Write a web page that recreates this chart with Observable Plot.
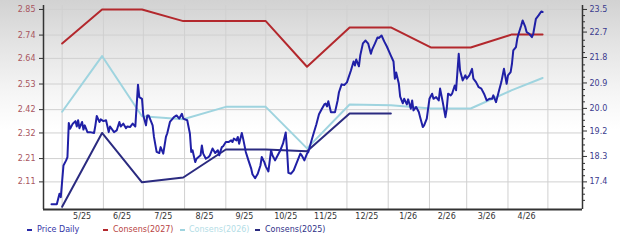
<!DOCTYPE html>
<html>
<head>
<meta charset="utf-8">
<script src="https://cdn.jsdelivr.net/npm/d3@7"></script>
<script src="https://cdn.jsdelivr.net/npm/@observablehq/plot@0.6"></script>
<style>
  html, body { margin: 0; padding: 0; }
  body {
    width: 620px; height: 245px; overflow: hidden;
    background: linear-gradient(to bottom, #d2d2d2 0px, #e4e4e4 45px, #f6f6f6 95px, #ffffff 130px);
    font-family: "DejaVu Sans", sans-serif;
  }
  #legend { position: relative; height: 23px; font-size: 8px; }
  #legend span.t { position: absolute; top: 3px; line-height: 10px; white-space: nowrap; }
  #legend span.m { position: absolute; top: 7px; width: 5px; height: 2px; }
</style>
</head>
<body>
<div id="chart"></div>
<div id="legend"></div>
<script>
// ---- data ----
const priceDates = [
"2025-04-23","2025-04-27","2025-04-29","2025-04-30","2025-05-02","2025-05-04","2025-05-05","2025-05-06","2025-05-07","2025-05-09",
"2025-05-11","2025-05-12","2025-05-13","2025-05-14","2025-05-16","2025-05-17","2025-05-18","2025-05-20","2025-05-22","2025-05-25",
"2025-05-26","2025-05-27","2025-05-29","2025-05-30","2025-06-01","2025-06-03","2025-06-05","2025-06-06","2025-06-09","2025-06-11",
"2025-06-13","2025-06-14","2025-06-16","2025-06-18","2025-06-19","2025-06-21","2025-06-23","2025-06-25","2025-06-27","2025-06-28",
"2025-06-30","2025-07-01","2025-07-03","2025-07-04","2025-07-05","2025-07-08","2025-07-09","2025-07-11","2025-07-13","2025-07-14",
"2025-07-16","2025-07-18","2025-07-19","2025-07-21","2025-07-24","2025-07-26","2025-07-28","2025-07-30","2025-07-31","2025-08-03",
"2025-08-05","2025-08-06","2025-08-07","2025-08-09","2025-08-10","2025-08-13","2025-08-14","2025-08-15","2025-08-17","2025-08-19",
"2025-08-20","2025-08-22","2025-08-24","2025-08-26","2025-08-27","2025-08-29","2025-08-30","2025-09-01","2025-09-03","2025-09-05",
"2025-09-06","2025-09-07","2025-09-09","2025-09-10","2025-09-11","2025-09-13","2025-09-14","2025-09-16","2025-09-18","2025-09-20",
"2025-09-21","2025-09-23","2025-09-25","2025-09-27","2025-09-28","2025-09-30","2025-10-01","2025-10-03","2025-10-05","2025-10-06",
"2025-10-08","2025-10-10","2025-10-12","2025-10-14","2025-10-16","2025-10-17","2025-10-18","2025-10-20","2025-10-22","2025-10-24",
"2025-10-27","2025-10-28","2025-10-30","2025-11-01","2025-11-02","2025-11-04","2025-11-06","2025-11-08","2025-11-10","2025-11-12",
"2025-11-14","2025-11-15","2025-11-16","2025-11-17","2025-11-19","2025-11-22","2025-11-24","2025-11-25","2025-11-27","2025-11-29",
"2025-12-01","2025-12-02","2025-12-04","2025-12-06","2025-12-07","2025-12-08","2025-12-10","2025-12-11","2025-12-13","2025-12-15",
"2025-12-17","2025-12-19","2025-12-20","2025-12-22","2025-12-24","2025-12-25","2025-12-27","2025-12-29","2025-12-31","2026-01-03",
"2026-01-05","2026-01-06","2026-01-07","2026-01-09","2026-01-10","2026-01-12","2026-01-13","2026-01-15","2026-01-16","2026-01-18",
"2026-01-19","2026-01-20","2026-01-22","2026-01-24","2026-01-25","2026-01-27","2026-01-28","2026-01-30","2026-02-01","2026-02-03",
"2026-02-04","2026-02-06","2026-02-08","2026-02-09","2026-02-11","2026-02-13","2026-02-14","2026-02-15","2026-02-17","2026-02-18",
"2026-02-20","2026-02-21","2026-02-23","2026-02-24","2026-02-26","2026-02-28","2026-03-01","2026-03-03","2026-03-05","2026-03-06",
"2026-03-08","2026-03-10","2026-03-12","2026-03-14","2026-03-16","2026-03-18","2026-03-20","2026-03-21","2026-03-23","2026-03-25",
"2026-03-27","2026-03-29","2026-03-31","2026-04-01","2026-04-03","2026-04-04","2026-04-05","2026-04-07","2026-04-08","2026-04-09",
"2026-04-11","2026-04-12","2026-04-14","2026-04-15","2026-04-17","2026-04-19","2026-04-20","2026-04-22","2026-04-23","2026-04-24",
"2026-04-26","2026-04-27"
];
const priceValues = [
16.61,16.61,16.98,16.86,17.98,18.16,18.28,19.48,19.28,19.46,
19.55,19.36,19.58,19.30,19.52,19.25,19.40,19.16,19.16,19.13,
19.40,19.73,19.52,19.61,19.55,19.58,19.16,19.36,19.16,19.22,
19.52,19.36,19.46,19.30,19.36,19.34,19.46,19.36,20.84,20.40,
20.34,19.75,19.40,19.75,19.75,19.40,18.99,18.46,18.42,18.63,
18.40,18.99,19.12,19.52,19.69,19.75,19.64,19.81,19.64,19.58,
19.11,18.46,18.52,18.10,18.22,18.34,18.69,18.40,18.22,18.28,
18.34,18.58,18.42,18.52,18.34,18.63,18.66,18.81,18.81,18.87,
18.81,18.93,18.87,18.99,18.75,19.13,18.93,18.46,18.16,17.88,
17.67,17.53,17.69,17.98,18.28,18.09,17.95,17.77,18.52,18.34,
18.16,18.34,18.52,18.76,19.15,18.52,17.72,17.69,17.81,18.05,
18.40,18.34,18.16,18.40,18.46,18.80,19.12,19.43,19.79,19.97,
20.14,20.17,20.07,20.25,19.86,19.86,20.28,20.57,20.85,20.83,
20.92,21.06,21.34,21.66,21.52,21.73,21.49,21.87,22.30,22.40,
22.29,21.93,22.09,22.29,22.51,22.49,22.58,22.37,22.19,21.87,
21.66,21.05,21.27,20.87,20.42,20.18,20.34,20.14,20.32,19.99,
20.28,19.93,20.05,19.87,19.69,19.34,19.40,19.64,20.34,20.52,
20.34,20.40,20.28,20.70,20.22,19.69,19.99,20.52,20.46,20.52,
20.81,20.64,21.93,21.34,20.99,21.17,21.05,21.17,21.40,21.05,
20.93,20.75,20.70,20.52,20.28,20.34,20.34,20.46,20.22,20.58,
20.93,21.40,20.87,21.17,21.28,21.58,22.05,22.17,22.47,22.64,
22.94,23.11,22.88,22.70,22.64,22.52,22.64,23.17,23.23,23.29,
23.43,23.41
];
const consDates = ["2025-05-01","2025-05-31","2025-06-30","2025-07-31","2025-09-01","2025-10-01","2025-11-01","2025-12-03","2026-01-03","2026-02-02","2026-03-04","2026-04-04","2026-04-27"];
const cons2027 = [2.704, 2.85, 2.85, 2.80, 2.80, 2.80, 2.604, 2.773, 2.773, 2.687, 2.687, 2.743, 2.743];
const cons2026 = [2.411, 2.650, 2.392, 2.379, 2.432, 2.432, 2.254, 2.442, 2.439, 2.425, 2.425, 2.504, 2.556];
const cons2025 = [2.003, 2.320, 2.108, 2.129, 2.249, 2.249, 2.242, 2.404, 2.404];

const leftTicks = [2.11, 2.21, 2.32, 2.42, 2.53, 2.64, 2.74, 2.85];
const rightTicks = [17.4, 18.3, 19.2, 20.0, 20.9, 21.8, 22.7, 23.5];
const xTickDates = ["2025-05-16","2025-06-15","2025-07-16","2025-08-16","2025-09-15","2025-10-16","2025-11-15","2025-12-16","2026-01-16","2026-02-14","2026-03-16","2026-04-15"];
const xTickLabels = ["5/25","6/25","7/25","8/25","9/25","10/25","11/25","12/25","1/26","2/26","3/26","4/26"];
const monthStarts = ["2025-05-01","2025-06-01","2025-07-01","2025-08-01","2025-09-01","2025-10-01","2025-11-01","2025-12-01","2026-01-01","2026-02-01","2026-03-01","2026-04-01","2026-05-01"];

const legendItems = [
  {label: "Price Daily", color: "#3434a6", mark: "#2a2aa8"},
  {label: "Consens(2027)", color: "#b84444", mark: "#b3282d"},
  {label: "Consens(2026)", color: "#b3dde6", mark: "#9fd4df"},
  {label: "Consens(2025)", color: "#303088", mark: "#2b2b80"}
];

// ---- scales helpers ----
const P = s => new Date(s + "T00:00:00Z");
const lMin = 2.11, lMax = 2.85, rMin = 17.4, rMax = 23.5;
const toLeft = p => lMin + (p - rMin) * (lMax - lMin) / (rMax - rMin);
const fromLeft = v => rMin + (v - lMin) * (rMax - rMin) / (lMax - lMin);

const yDomain = [1.9915, 2.867];
const xDomain = [P("2025-04-17"), P("2026-05-27")];

const price = priceDates.map((d, i) => ({date: P(d), value: toLeft(priceValues[i])}));
const c27 = consDates.map((d, i) => ({date: P(d), value: cons2027[i]}));
const c26 = consDates.map((d, i) => ({date: P(d), value: cons2026[i]}));
const c25 = cons2025.map((v, i) => ({date: P(consDates[i]), value: v}));

const rightTicksL = rightTicks.map(toLeft);
const labelByRight = new Map(rightTicksL.map((v, i) => [v, rightTicks[i]]));
const step = (lMax - lMin) / (leftTicks.length - 1) / 4;
const minorL = [];
for (let k = -8; k <= 40; k++) {
  if (k % 4 === 0) continue;
  const v = lMin + k * step;
  if (v >= yDomain[0] && v <= lMax) minorL.push(v);
}
const xTicks = xTickDates.map(P);
const xLabelMap = new Map(xTicks.map((d, i) => [+d, xTickLabels[i]]));

const chart = Plot.plot({
  width: 620, height: 222,
  marginLeft: 43, marginRight: 38, marginTop: 5, marginBottom: 13,
  style: {background: "transparent", fontFamily: "DejaVu Sans", fontSize: "8px", overflow: "visible"},
  x: {type: "utc", domain: xDomain, label: null},
  y: {domain: yDomain, label: null},
  marks: [
    Plot.ruleY(leftTicks, {stroke: "#d0d0d0", strokeWidth: 1}),
    Plot.ruleX(monthStarts.map(P), {stroke: "#d0d0d0", strokeWidth: 1}),
    Plot.line(c26, {x: "date", y: "value", stroke: "#9fd4df", strokeWidth: 2}),
    Plot.line(c25, {x: "date", y: "value", stroke: "#2b2b80", strokeWidth: 2}),
    Plot.line(c27, {x: "date", y: "value", stroke: "#b3282d", strokeWidth: 2}),
    Plot.line(price, {x: "date", y: "value", stroke: "#2020a6", strokeWidth: 2, strokeLinejoin: "round"}),
    Plot.axisY(leftTicks, {anchor: "left", tickSize: 4, tickPadding: 4, tickFormat: d3.format(".2f"), fill: "#a85560", stroke: "#333", fontSize: 8, label: null}),
    Plot.axisY(rightTicksL, {anchor: "right", tickSize: 4, tickPadding: 3, tickFormat: v => labelByRight.get(v).toFixed(1), fill: "#3b3b8e", stroke: "#333", fontSize: 8, label: null}),
    Plot.axisY(minorL, {anchor: "right", tickSize: 2, tickFormat: () => "", stroke: "#333", label: null}),
    Plot.axisX(xTicks, {anchor: "bottom", tickSize: 0, tickPadding: 4, tickFormat: d => xLabelMap.get(+d), fill: "#333", fontSize: 8, label: null}),
    Plot.ruleX([xDomain[0]], {stroke: "#333", strokeWidth: 1.5}),
    Plot.ruleX([xDomain[1]], {stroke: "#333", strokeWidth: 1.5}),
    Plot.ruleY([yDomain[0]], {stroke: "#333", strokeWidth: 2})
  ]
});
document.getElementById("chart").appendChild(chart);

// ---- legend ----
const legendPos = [[27, 37], [103, 113], [180, 189], [255, 265]];
const lg = document.getElementById("legend");
legendItems.forEach((it, i) => {
  const m = document.createElement("span");
  m.className = "m";
  m.style.left = legendPos[i][0] + "px";
  m.style.background = it.mark;
  lg.appendChild(m);
  const t = document.createElement("span");
  t.className = "t";
  t.style.left = legendPos[i][1] + "px";
  t.style.color = it.color;
  t.textContent = it.label;
  lg.appendChild(t);
});
</script>
</body>
</html>
